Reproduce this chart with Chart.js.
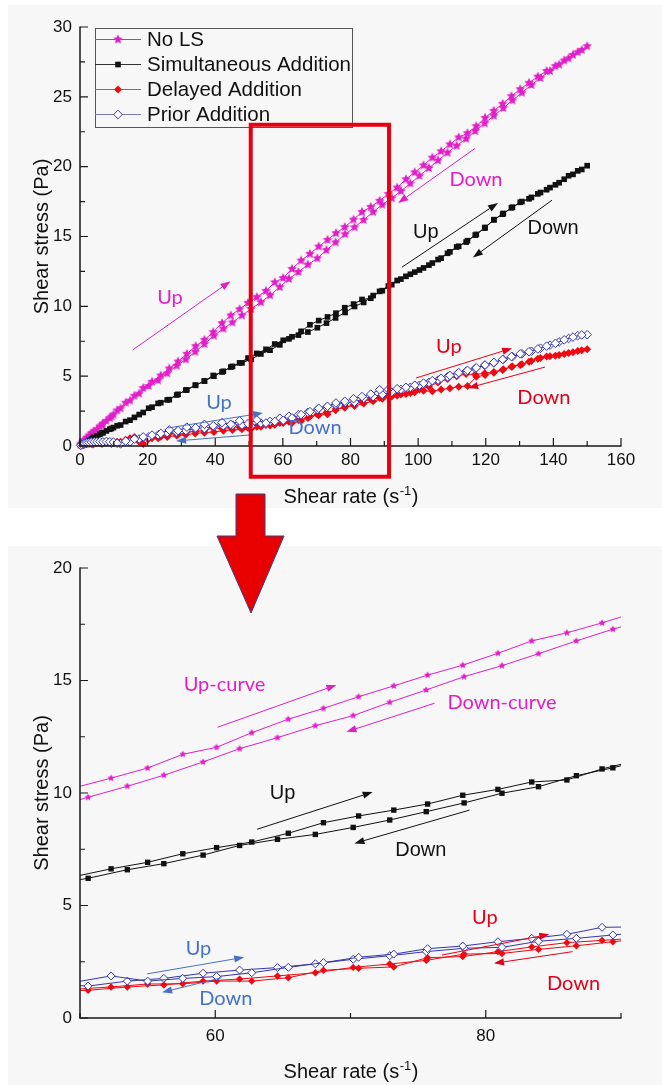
<!DOCTYPE html>
<html>
<head>
<meta charset="utf-8">
<script src="https://cdn.jsdelivr.net/npm/chart.js@4.4.1/dist/chart.umd.min.js"></script>
<style>
  html, body { margin: 0; padding: 0; background: #ffffff; }
  #wrap { position: relative; width: 662px; height: 1085px; overflow: hidden; }
  canvas { position: absolute; left: 0; }
  #topChart { top: 0; }
  #zoomChart { top: 540px; }
  #overlay { top: 0; pointer-events: none; }
</style>
</head>
<body>
<div id="wrap">
  <canvas id="topChart" width="662" height="540"></canvas>
  <canvas id="zoomChart" width="662" height="545"></canvas>
  <canvas id="overlay" width="662" height="1085"></canvas>
</div>
<script>
// Shear rates (1/s) of the ramp-up and ramp-down sweeps
const upRate = [0.2, 0.5, 0.9, 1.4, 2.0, 2.7, 3.4, 4.2, 5.0, 5.9,
  6.8, 7.8, 8.8, 9.9, 11.0, 13.5, 16.1, 18.7, 21.3, 23.9,
  26.4, 29.0, 31.6, 34.2, 36.8, 39.4, 42.0, 44.6, 47.2, 49.7,
  52.3, 55.0, 57.6, 60.1, 62.7, 65.4, 68.0, 70.6, 73.2, 75.7,
  78.3, 80.9, 83.4, 86.0, 88.6, 91.2, 93.8, 96.4, 99.0, 101.6,
  104.2, 106.8, 109.4, 112.0, 114.6, 117.2, 119.8, 122.4, 125.0, 127.6,
  130.2, 132.8, 135.4, 138.0, 140.6, 143.2, 145.8, 148.4];
const downRate = [150.0, 147.2, 144.5, 141.7, 139.0, 136.2, 133.5, 130.7, 127.9, 125.2,
  122.4, 119.7, 116.9, 114.2, 111.4, 108.7, 105.9, 103.2, 100.4, 97.7,
  94.9, 92.2, 89.4, 86.7, 83.9, 81.2, 78.4, 75.6, 72.9, 70.2,
  67.4, 64.6, 61.8, 59.1, 56.2, 53.5, 50.6, 47.9, 45.1, 42.4,
  39.6, 36.8, 34.1, 31.3, 28.6, 25.8, 23.1, 20.3, 17.5, 14.8,
  12.0, 9.3, 6.5, 3.8, 1.0];

// Shear stress (Pa)
const noLsUp = [0.1, 0.2, 0.3, 0.45, 0.6, 0.75, 0.9, 1.05, 1.2, 1.4,
  1.6, 1.8, 2.0, 2.25, 2.55, 3.1, 3.6, 4.15, 4.6, 5.05,
  5.55, 6.05, 6.6, 7.15, 7.6, 8.15, 8.8, 9.35, 9.8, 10.25,
  10.66, 11.11, 11.72, 12.03, 12.68, 13.28, 13.76, 14.28, 14.76, 15.24,
  15.68, 16.21, 16.76, 17.12, 17.56, 18.05, 18.5, 19.1, 19.6, 20.1,
  20.65, 21.1, 21.6, 22.1, 22.4, 22.9, 23.5, 24.0, 24.5, 25.05,
  25.55, 26.0, 26.45, 26.85, 27.2, 27.6, 28.0, 28.35];
const noLsDown = [28.63, 28.2, 27.75, 27.3, 26.85, 26.35, 25.85, 25.3, 24.75, 24.2,
  23.65, 23.1, 22.55, 22.0, 21.5, 21.0, 20.45, 19.9, 19.35, 18.8,
  18.25, 17.75, 17.28, 16.76, 16.19, 15.66, 15.17, 14.58, 14.03, 13.44,
  12.99, 12.46, 11.97, 11.38, 10.79, 10.30, 9.81, 9.35, 8.85, 8.4,
  7.9, 7.3, 6.75, 6.2, 5.75, 5.2, 4.7, 4.3, 3.75, 3.25,
  2.7, 2.1, 1.5, 0.95, 0.3];
const simUp = [0.05, 0.1, 0.15, 0.22, 0.3, 0.4, 0.5, 0.6, 0.72, 0.85,
  0.95, 1.08, 1.2, 1.32, 1.45, 1.75, 2.05, 2.4, 2.78, 3.1,
  3.32, 3.7, 4.02, 4.35, 4.65, 5.05, 5.3, 5.65, 5.95, 6.3,
  6.63, 6.92, 7.30, 7.57, 7.82, 8.21, 8.68, 8.98, 9.24, 9.51,
  9.90, 10.16, 10.49, 10.58, 11.07, 11.45, 11.85, 12.15, 12.45, 12.75,
  13.1, 13.45, 13.9, 14.3, 14.7, 15.15, 15.65, 16.2, 16.6, 17.05,
  17.45, 17.7, 18.05, 18.35, 18.7, 19.1, 19.45, 19.8];
const simDown = [20.07, 19.7, 19.35, 18.85, 18.5, 18.15, 17.8, 17.5, 17.1, 16.65,
  16.2, 15.6, 15.1, 14.6, 14.25, 13.8, 13.35, 12.95, 12.6, 12.3,
  11.95, 11.55, 11.12, 10.77, 10.28, 9.99, 9.56, 9.17, 8.8, 8.47,
  8.16, 7.94, 7.67, 7.24, 6.86, 6.59, 6.21, 5.95, 5.7, 5.35,
  5.0, 4.65, 4.35, 4.0, 3.65, 3.3, 3.05, 2.7, 2.25, 1.85,
  1.5, 1.25, 0.95, 0.6, 0.2];
const delayedUp = [0.02, 0.05, 0.08, 0.1, 0.12, 0.15, 0.15, 0.18, 0.2, 0.2,
  0.22, 0.22, 0.25, 0.25, 0.3, 0.45, 0.65, 0.15, 0.55, 0.67,
  0.9, 0.8, 1.0, 1.05, 1.1, 1.3, 1.25, 1.32, 1.35, 1.28,
  1.38, 1.51, 1.52, 1.64, 1.64, 1.79, 2.12, 2.21, 2.27, 2.68,
  2.73, 2.95, 3.16, 3.35, 3.45, 3.55, 3.62, 3.72, 3.85, 3.95,
  3.92, 4.05, 4.13, 4.25, 4.3, 4.95, 5.08, 5.25, 5.44, 5.68,
  5.8, 6.03, 6.25, 6.4, 6.47, 6.58, 6.72, 6.85];
const delayedDown = [6.92, 6.8, 6.66, 6.52, 6.42, 6.3, 6.08, 5.85, 5.7, 5.5,
  5.3, 5.2, 5.12, 5.15, 5.0, 4.8, 4.55, 4.25, 4.05, 3.8,
  3.68, 3.55, 3.39, 3.21, 3.05, 2.87, 2.84, 2.56, 2.40, 2.25,
  2.01, 1.87, 1.73, 1.64, 1.47, 1.38, 1.23, 1.2, 1.15, 1.1,
  1.0, 0.95, 0.9, 0.8, 0.75, 0.65, 0.55, 0.5, 0.3, 0.55,
  0.3, 0.2, 0.15, 0.1, 0.05];
const priorUp = [0.05, 0.1, 0.15, 0.2, 0.22, 0.25, 0.28, 0.3, 0.3, 0.32,
  0.3, 0.32, 0.3, 0.28, 0.2, 0.35, 0.5, 0.65, 0.78, 0.9,
  1.15, 1.1, 1.35, 1.3, 1.55, 1.45, 1.68, 1.55, 1.8, 1.6,
  1.87, 1.64, 1.76, 1.84, 2.01, 2.25, 2.46, 2.70, 2.84, 3.08,
  3.20, 3.39, 3.54, 3.72, 4.03, 4.05, 4.1, 4.2, 4.35, 4.5,
  4.68, 4.85, 5.05, 5.25, 5.42, 5.6, 5.8, 5.98, 6.2, 6.4,
  6.6, 6.75, 6.95, 7.15, 7.35, 7.6, 7.8, 7.95];
const priorDown = [7.97, 7.9, 7.7, 7.45, 7.22, 7.0, 6.78, 6.6, 6.4, 6.2,
  5.95, 5.78, 5.55, 5.35, 5.12, 4.95, 4.72, 4.55, 4.35, 4.2,
  4.05, 3.85, 3.69, 3.54, 3.41, 3.14, 3.10, 2.95, 2.77, 2.61,
  2.41, 2.24, 2.13, 1.99, 1.76, 1.64, 1.42, 1.5, 1.5, 1.45,
  1.4, 1.25, 1.25, 1.1, 1.0, 0.95, 0.8, 0.65, 0.5, 0.3,
  0.15, 0.2, 0.25, 0.2, 0.1];

const seriesNames = ['No LS', 'Simultaneous Addition', 'Delayed Addition', 'Prior Addition'];

// Axis ticks
const fullXTicks = [0, 20, 40, 60, 80, 100, 120, 140, 160];
const fullXMinor = [10, 30, 50, 70, 90, 110, 130, 150];
const fullYTicks = [0, 5, 10, 15, 20, 25, 30];
const fullYMinor = [2.5, 7.5, 12.5, 17.5, 22.5, 27.5];
const zoomXTicks = [60, 80];
const zoomXMinor = [50, 70, 90];
const zoomYTicks = [0, 5, 10, 15, 20];
const zoomYMinor = [2.5, 7.5, 12.5, 17.5];

const AXIS_FONT = '"Liberation Sans", Arial, sans-serif';
const NOTE_FONT = 'Lato, "Open Sans", sans-serif';
const COL = {
  magenta: '#e01fc8', black: '#111111', red: '#ee0a12', blue: '#3535b0',
  noteBlue: '#4472c4', noteRed: '#e3001b', frame: '#e60010', panel: '#f7f7f7'
};

function pairs(rates, vals) {
  if (rates.length !== vals.length) throw new Error('length mismatch ' + rates.length + ' / ' + vals.length);
  return rates.map((r, i) => ({ x: r, y: vals[i] }));
}

function starImage(r, color) {
  const c = document.createElement('canvas');
  const s = Math.ceil(r * 2) + 2;
  c.width = c.height = s;
  const g = c.getContext('2d');
  g.translate(s / 2, s / 2);
  g.beginPath();
  for (let i = 0; i < 10; i++) {
    const rr = i % 2 ? r * 0.48 : r;
    const a = -Math.PI / 2 + i * Math.PI / 5;
    g.lineTo(rr * Math.cos(a), rr * Math.sin(a));
  }
  g.closePath();
  g.fillStyle = color;
  g.fill();
  return c;
}

function seriesStyles(sz) {
  return [
    { name: seriesNames[0], up: noLsUp, down: noLsDown, line: COL.magenta,
      point: { pointStyle: starImage(sz.star, COL.magenta), pointRadius: sz.star, pointBackgroundColor: COL.magenta, pointBorderColor: COL.magenta, pointBorderWidth: 0 }, order: 4 },
    { name: seriesNames[1], up: simUp, down: simDown, line: COL.black,
      point: { pointStyle: 'rect', pointRadius: sz.square, pointBackgroundColor: COL.black, pointBorderColor: COL.black, pointBorderWidth: 0 }, order: 3 },
    { name: seriesNames[2], up: delayedUp, down: delayedDown, line: COL.red,
      point: { pointStyle: 'rectRot', pointRadius: sz.redDiamond, pointBackgroundColor: COL.red, pointBorderColor: COL.red, pointBorderWidth: 0 }, order: 2 },
    { name: seriesNames[3], up: priorUp, down: priorDown, line: COL.blue,
      point: { pointStyle: 'rectRot', pointRadius: sz.blueDiamond, pointBackgroundColor: '#ffffff', pointBorderColor: COL.blue, pointBorderWidth: 1 }, order: 1 }
  ];
}

function buildDatasets(sz, clip) {
  const out = [];
  seriesStyles(sz).forEach(s => {
    [['up', s.up, upRate], ['down', s.down, downRate]].forEach(([dir, vals, rates]) => {
      out.push(Object.assign({
        label: s.name + ' (' + dir + ')',
        data: pairs(rates, vals),
        borderColor: s.line,
        borderWidth: 1,
        tension: 0,
        fill: false,
        order: s.order,
        clip: clip
      }, s.point));
    });
  });
  return out;
}

function drawArrow(ctx, x1, y1, x2, y2, color) {
  const ang = Math.atan2(y2 - y1, x2 - x1);
  const L = 10, W = 3.6;
  const bx = x2 - L * Math.cos(ang), by = y2 - L * Math.sin(ang);
  ctx.save();
  ctx.strokeStyle = color;
  ctx.fillStyle = color;
  ctx.lineWidth = 1;
  ctx.beginPath();
  ctx.moveTo(x1, y1);
  ctx.lineTo(bx, by);
  ctx.stroke();
  ctx.beginPath();
  ctx.moveTo(x2, y2);
  ctx.lineTo(bx + W * Math.sin(ang), by - W * Math.cos(ang));
  ctx.lineTo(bx - W * Math.sin(ang), by + W * Math.cos(ang));
  ctx.closePath();
  ctx.fill();
  ctx.restore();
}

function drawMarker(ctx, idx, x, y, sz) {
  const st = seriesStyles(sz)[idx];
  ctx.save();
  if (idx === 0) {
    const img = st.point.pointStyle;
    ctx.drawImage(img, x - img.width / 2, y - img.height / 2);
  } else if (idx === 1) {
    const h = Math.SQRT1_2 * sz.square;
    ctx.fillStyle = COL.black;
    ctx.fillRect(x - h, y - h, 2 * h, 2 * h);
  } else {
    const r = idx === 2 ? sz.redDiamond : sz.blueDiamond;
    ctx.beginPath();
    ctx.moveTo(x - r, y); ctx.lineTo(x, y - r); ctx.lineTo(x + r, y); ctx.lineTo(x, y + r);
    ctx.closePath();
    ctx.fillStyle = st.point.pointBackgroundColor;
    ctx.fill();
    if (idx === 3) { ctx.strokeStyle = COL.blue; ctx.lineWidth = 1; ctx.stroke(); }
  }
  ctx.restore();
}

// Panel background, inward ticks, axis titles, notes, legend and the highlight frame
const decorPlugin = {
  id: 'decor',
  beforeDraw(chart, args, o) {
    const ctx = chart.ctx;
    ctx.save();
    ctx.fillStyle = COL.panel;
    ctx.fillRect(o.panel[0], o.panel[1], o.panel[2] - o.panel[0], o.panel[3] - o.panel[1]);
    ctx.restore();
  },
  afterDraw(chart, args, o) {
    const ctx = chart.ctx;
    const xs = chart.scales.x, ys = chart.scales.y;
    const a = chart.chartArea;
    ctx.save();
    // axes
    ctx.strokeStyle = '#1a1a1a';
    ctx.lineWidth = 1.5;
    ctx.beginPath();
    ctx.moveTo(a.left, a.top - 0.5);
    ctx.lineTo(a.left, a.bottom);
    ctx.lineTo(a.right + 0.5, a.bottom);
    ctx.stroke();
    // ticks pointing into the plot
    ctx.lineWidth = 1.2;
    ctx.beginPath();
    xs.ticks.forEach(t => { const p = xs.getPixelForValue(t.value); ctx.moveTo(p, a.bottom); ctx.lineTo(p, a.bottom - 8); });
    o.xMinor.forEach(v => { const p = xs.getPixelForValue(v); ctx.moveTo(p, a.bottom); ctx.lineTo(p, a.bottom - 5); });
    ys.ticks.forEach(t => { const p = ys.getPixelForValue(t.value); ctx.moveTo(a.left, p); ctx.lineTo(a.left + 8, p); });
    o.yMinor.forEach(v => { const p = ys.getPixelForValue(v); ctx.moveTo(a.left, p); ctx.lineTo(a.left + 5, p); });
    ctx.stroke();

    // axis titles
    ctx.fillStyle = '#111111';
    ctx.font = '20px ' + AXIS_FONT;
    ctx.textBaseline = 'alphabetic';
    const main = 'Shear rate (s', sup = '-1', close = ')';
    const w1 = ctx.measureText(main).width;
    ctx.font = '13px ' + AXIS_FONT;
    const w2 = ctx.measureText(sup).width;
    ctx.font = '20px ' + AXIS_FONT;
    const w3 = ctx.measureText(close).width;
    let x0 = (a.left + a.right) / 2 - (w1 + w2 + w3) / 2;
    ctx.textAlign = 'left';
    ctx.fillText(main, x0, o.xTitleY);
    ctx.font = '13px ' + AXIS_FONT;
    ctx.fillText(sup, x0 + w1 + 0.5, o.xTitleY - 8);
    ctx.font = '20px ' + AXIS_FONT;
    ctx.fillText(close, x0 + w1 + w2 + 1, o.xTitleY);
    ctx.save();
    ctx.translate(o.yTitleX, (a.top + a.bottom) / 2);
    ctx.rotate(-Math.PI / 2);
    ctx.textAlign = 'center';
    ctx.fillText('Shear stress (Pa)', 0, 0);
    ctx.restore();

    // direction arrows and labels
    o.arrows.forEach(ar => {
      drawArrow(ctx, xs.getPixelForValue(ar.from[0]), ys.getPixelForValue(ar.from[1]),
        xs.getPixelForValue(ar.to[0]), ys.getPixelForValue(ar.to[1]), ar.color);
    });
    o.notes.forEach(n => {
      ctx.font = n.font;
      ctx.fillStyle = n.color;
      ctx.textAlign = 'center';
      ctx.textBaseline = 'middle';
      ctx.fillText(n.text, xs.getPixelForValue(n.at[0]), ys.getPixelForValue(n.at[1]));
    });

    // legend
    if (o.legend) {
      const L = o.legend;
      ctx.strokeStyle = '#555555';
      ctx.lineWidth = 1;
      ctx.strokeRect(L.box[0] + 0.5, L.box[1] + 0.5, L.box[2] - L.box[0], L.box[3] - L.box[1]);
      const st = seriesStyles(L.sz);
      const lineCols = [COL.magenta, '#333333', '#f04040', '#7a7ac0'];
      st.forEach((s, i) => {
        const y = L.rows[i];
        ctx.strokeStyle = lineCols[i];
        ctx.beginPath();
        ctx.moveTo(L.box[0], y + 0.5);
        ctx.lineTo(L.lineEnd, y + 0.5);
        ctx.stroke();
        drawMarker(ctx, i, (L.box[0] + L.lineEnd) / 2, y + 0.5, L.sz);
        ctx.fillStyle = '#111111';
        ctx.font = '20.5px ' + AXIS_FONT;
        ctx.textAlign = 'left';
        ctx.textBaseline = 'middle';
        ctx.fillText(s.name, L.textX, y + 1);
      });
    }

    // highlighted shear-rate window
    if (o.window) {
      const W = o.window;
      ctx.strokeStyle = COL.frame;
      ctx.lineWidth = 4;
      const x1 = xs.getPixelForValue(W.x[0]), x2 = xs.getPixelForValue(W.x[1]);
      const y1 = ys.getPixelForValue(W.y[1]), y2 = ys.getPixelForValue(W.y[0]);
      ctx.strokeRect(x1, y1, x2 - x1, y2 - y1);
    }
    ctx.restore();
  }
};

function scaleOptions(min, max, tickValues, padding) {
  return {
    type: 'linear', min: min, max: max,
    afterBuildTicks: s => { s.ticks = tickValues.map(v => ({ value: v })); },
    grid: { display: false, drawTicks: false },
    border: { display: false },
    ticks: { color: '#111111', font: { family: AXIS_FONT, size: 17 }, padding: padding, maxRotation: 0, autoSkip: false }
  };
}

const topSizes = { star: 5.0, square: 4.0, redDiamond: 4.0, blueDiamond: 4.3 };
const zoomSizes = { star: 3.8, square: 3.8, redDiamond: 3.7, blueDiamond: 4.0 };

Chart.register(decorPlugin);

const fullX = scaleOptions(0, 160, fullXTicks, 4);
fullX.afterFit = s => { s.height = 60; };
const fullY = scaleOptions(0, 30, fullYTicks, 8);
fullY.afterFit = s => { s.width = 80; };

new Chart(document.getElementById('topChart'), {
  type: 'line',
  data: { datasets: buildDatasets(topSizes, false) },
  options: {
    responsive: false, animation: false, events: [],
    layout: { padding: { left: 0, right: 41, top: 27, bottom: 34 } },
    scales: { x: fullX, y: fullY },
    plugins: {
      legend: { display: false }, tooltip: { enabled: false },
      decor: {
        panel: [8, 5, 662, 508],
        xMinor: fullXMinor, yMinor: fullYMinor,
        xTitleY: 503, yTitleX: 48,
        arrows: [
          { from: [15.7, 6.9], to: [44.5, 11.8], color: COL.magenta },
          { from: [116.8, 21.3], to: [94.1, 17.4], color: COL.magenta },
          { from: [95.2, 12.8], to: [123.6, 17.4], color: COL.black },
          { from: [139.6, 17.6], to: [116.2, 13.5], color: COL.black },
          { from: [99.4, 4.87], to: [127.8, 7.0], color: COL.noteRed },
          { from: [137.5, 5.65], to: [114.8, 4.15], color: COL.noteRed },
          { from: [26.0, 1.29], to: [54.1, 2.36], color: COL.noteBlue },
          { from: [50.3, 0.79], to: [28.4, 0.36], color: COL.noteBlue }
        ],
        notes: [
          { text: 'Up', at: [26.6, 10.6], color: COL.magenta, font: '20px ' + NOTE_FONT },
          { text: 'Down', at: [117.1, 19.1], color: COL.magenta, font: '20px ' + NOTE_FONT },
          { text: 'Up', at: [102.3, 15.3], color: '#111111', font: '20px ' + AXIS_FONT },
          { text: 'Down', at: [139.9, 15.6], color: '#111111', font: '20px ' + AXIS_FONT },
          { text: 'Up', at: [109.1, 7.1], color: COL.noteRed, font: '20px ' + NOTE_FONT },
          { text: 'Down', at: [137.2, 3.5], color: COL.noteRed, font: '20px ' + NOTE_FONT },
          { text: 'Up', at: [41.1, 3.08], color: COL.noteBlue, font: '20px ' + NOTE_FONT },
          { text: 'Down', at: [69.5, 1.29], color: COL.noteBlue, font: '20px ' + NOTE_FONT }
        ],
        legend: { box: [95, 28, 352, 127], lineEnd: 141, textX: 147, rows: [39, 64, 89, 114], sz: topSizes },
        window: { x: [50.5, 91.4], y: [-2.2, 23.0] }
      }
    }
  }
});

const zoomX = scaleOptions(50, 90, zoomXTicks, 8);
zoomX.afterFit = s => { s.height = 60; };
const zoomY = scaleOptions(0, 20, zoomYTicks, 8);
zoomY.afterFit = s => { s.width = 80; };

new Chart(document.getElementById('zoomChart'), {
  type: 'line',
  data: { datasets: buildDatasets(zoomSizes, undefined) },
  options: {
    responsive: false, animation: false, events: [],
    layout: { padding: { left: 0, right: 41, top: 28, bottom: 7 } },
    scales: { x: zoomX, y: zoomY },
    plugins: {
      legend: { display: false }, tooltip: { enabled: false },
      decor: {
        panel: [8, 6, 662, 545],
        xMinor: zoomXMinor, yMinor: zoomYMinor,
        xTitleY: 538, yTitleX: 48,
        arrows: [
          { from: [60.16, 12.92], to: [68.96, 14.8], color: COL.magenta },
          { from: [76.22, 13.99], to: [69.7, 12.72], color: COL.magenta },
          { from: [63.1, 8.39], to: [71.64, 10.04], color: COL.black },
          { from: [78.8, 9.24], to: [70.29, 7.76], color: COL.black },
          { from: [54.96, 1.96], to: [62.14, 2.70], color: COL.noteBlue },
          { from: [60.47, 1.79], to: [56.07, 1.14], color: COL.noteBlue },
          { from: [76.77, 2.8], to: [84.7, 3.72], color: COL.noteRed },
          { from: [86.43, 2.95], to: [80.61, 2.43], color: COL.noteRed }
        ],
        notes: [
          { text: 'Up-curve', at: [60.68, 14.8], color: COL.magenta, font: '20px ' + NOTE_FONT },
          { text: 'Down-curve', at: [81.2, 14.03], color: COL.magenta, font: '20px ' + NOTE_FONT },
          { text: 'Up', at: [64.97, 9.99], color: '#111111', font: '20px ' + AXIS_FONT },
          { text: 'Down', at: [75.2, 7.44], color: '#111111', font: '20px ' + AXIS_FONT },
          { text: 'Up', at: [58.76, 3.10], color: COL.noteBlue, font: '20px ' + NOTE_FONT },
          { text: 'Down', at: [60.78, 0.88], color: COL.noteBlue, font: '20px ' + NOTE_FONT },
          { text: 'Up', at: [79.93, 4.48], color: COL.noteRed, font: '20px ' + NOTE_FONT },
          { text: 'Down', at: [86.49, 1.51], color: COL.noteRed, font: '20px ' + NOTE_FONT }
        ]
      }
    }
  }
});

// Block arrow leading from the highlighted window to the enlarged view
(function () {
  const ctx = document.getElementById('overlay').getContext('2d');
  ctx.beginPath();
  ctx.moveTo(236, 494);
  ctx.lineTo(265, 494);
  ctx.lineTo(265, 536);
  ctx.lineTo(284, 536);
  ctx.lineTo(251, 613);
  ctx.lineTo(217, 536);
  ctx.lineTo(236, 536);
  ctx.closePath();
  ctx.fillStyle = '#e80000';
  ctx.fill();
  ctx.strokeStyle = '#3d3d80';
  ctx.lineWidth = 1;
  ctx.stroke();
})();
</script>
</body>
</html>
